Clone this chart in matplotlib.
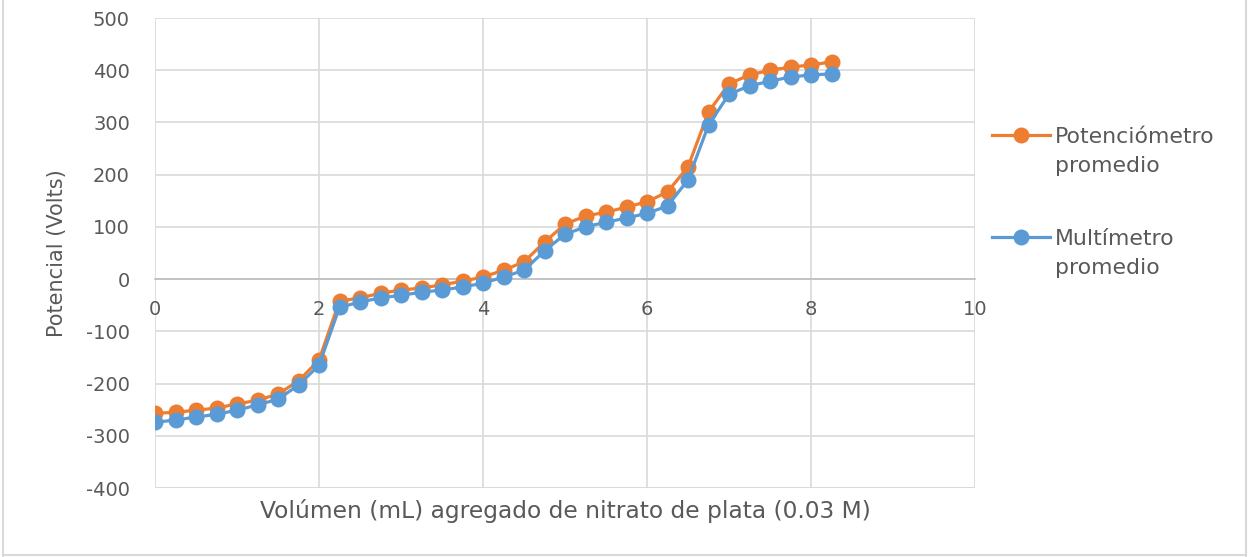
import matplotlib
matplotlib.use('Agg')
import matplotlib.pyplot as plt
from matplotlib.lines import Line2D

plt.rcParams['font.family'] = ['DejaVu Sans']
plt.rcParams['axes.unicode_minus'] = False

# ---- datos ----
volumen = [0, 0.25, 0.5, 0.75, 1.0, 1.25, 1.5, 1.75, 2.0, 2.25, 2.5, 2.75,
           3.0, 3.25, 3.5, 3.75, 4.0, 4.25, 4.5, 4.75, 5.0, 5.25, 5.5, 5.75,
           6.0, 6.25, 6.5, 6.75, 7.0, 7.25, 7.5, 7.75, 8.0, 8.25]
potenciometro = [-257, -255, -251, -247, -239, -232, -220, -195, -155, -42,
                 -36, -27, -21, -17, -11, -4, 4, 17, 33, 71, 105, 121, 128,
                 138, 148, 167, 215, 320, 374, 391, 400, 406, 410, 416]
multimetro = [-274, -270, -264, -259, -251, -241, -230, -203, -165, -54,
              -44, -36, -31, -25, -21, -15, -8, 4, 17, 54, 86, 100, 109,
              117, 126, 140, 190, 295, 354, 370, 379, 387, 391, 393]
etiquetas = ['Potenciómetro\npromedio', 'Multímetro\npromedio']
colores = ['#ED7D31', '#5B9BD5']
gris = '#595959'

W, H = 1249, 557
fig = plt.figure(figsize=(W / 100, H / 100), dpi=100)
ax = fig.add_axes([155 / W, 1 - 488 / H, (975 - 155) / W, (488 - 18) / H])

for serie, lab, col in zip([potenciometro, multimetro], etiquetas, colores):
    ax.plot(volumen, serie, color=col, lw=2.3, marker='o', ms=11.5,
            markeredgewidth=0, label=lab, zorder=3)

ax.set_xlim(0, 10)
ax.set_ylim(-400, 500)
ax.set_xticks(range(0, 11, 2))
ax.set_yticks(range(-400, 501, 100))
ax.grid(True, color='#d9d9d9', lw=1.2, zorder=0)
ax.set_axisbelow(True)

for s in ['top', 'right', 'left']:
    ax.spines[s].set_visible(False)
ax.spines['bottom'].set_position(('data', 0))
ax.spines['bottom'].set_color('#bfbfbf')
ax.spines['bottom'].set_linewidth(1.2)
ax.spines['bottom'].set_zorder(1)
ax.axhline(-400, color='#d9d9d9', lw=1.2, zorder=0)

ax.tick_params(axis='both', length=0, labelsize=14, colors=gris)
ax.tick_params(axis='y', pad=18)
ax.tick_params(axis='x', pad=15)

ax.set_ylabel('Potencial (Volts)', fontsize=15, color=gris, labelpad=14)
fig.text(565 / W, 1 - 511 / H, 'Volúmen (mL) agregado de nitrato de plata (0.03 M)',
         fontsize=16.8, color=gris, ha='center', va='center')

# leyenda estilo Excel: marcador alineado con la primera linea del texto
for i, (lab, col) in enumerate(zip(etiquetas, colores)):
    y0 = 135 + i * 102
    fig.add_artist(Line2D([992 / W, 1050 / W], [1 - y0 / H, 1 - y0 / H],
                          transform=fig.transFigure, color=col, lw=2.3))
    fig.add_artist(Line2D([1021 / W], [1 - y0 / H], transform=fig.transFigure,
                          color=col, marker='o', ms=11.5, markeredgewidth=0))
    for k, linea in enumerate(lab.split('\n')):
        fig.text(1055 / W, 1 - (y0 + k * 29) / H, linea, fontsize=15.8,
                 color=gris, ha='left', va='center_baseline')

# borde de la figura
for xs, ys in [([3 / W, 3 / W], [0, 1]), ([1246 / W, 1246 / W], [0, 1]),
               ([3 / W, 1246 / W], [2 / H, 2 / H])]:
    fig.add_artist(Line2D(xs, ys, transform=fig.transFigure, color='#d9d9d9', lw=1.5))

fig.savefig('out.png', dpi=100, facecolor='white')
